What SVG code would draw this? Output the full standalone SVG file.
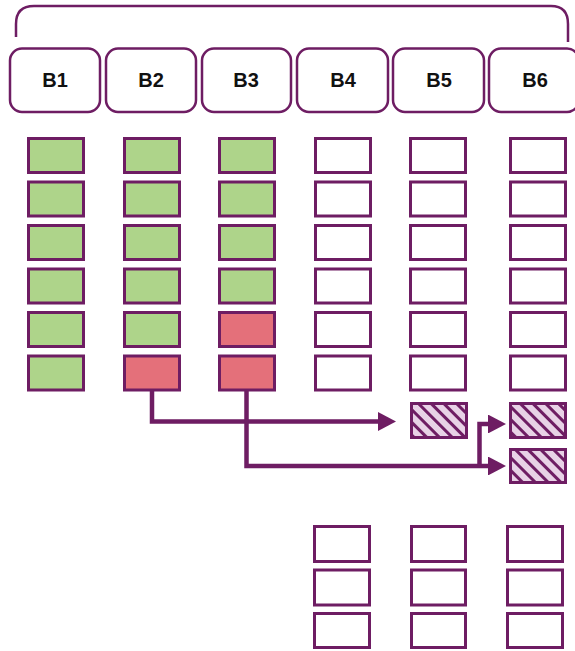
<svg xmlns="http://www.w3.org/2000/svg" width="575" height="651" viewBox="0 0 575 651">
<style>
.hdr{fill:#fff;stroke:#6e1d63;stroke-width:2.5}
.lbl{font-family:"Liberation Sans",Arial,sans-serif;font-weight:bold;font-size:20px;fill:#111;text-anchor:middle}
.c{stroke:#6e1d63;stroke-width:3}
.g{fill:#aed48a}
.r{fill:#e4707a}
.w{fill:#fff}
.h{fill:url(#hatch)}
.conn{fill:none;stroke:#6e1d63;stroke-width:4.5}
</style>
<defs>
<pattern id="hatch" patternUnits="userSpaceOnUse" width="9" height="9" patternTransform="rotate(-45)">
<rect width="9" height="9" fill="#e8d2e6"/>
<rect x="0" y="0" width="3" height="9" fill="#6e1d63"/>
</pattern>
<marker id="ah" markerWidth="4" markerHeight="4.2" refX="0" refY="2.1" orient="auto" markerUnits="strokeWidth">
<path d="M0,0 L4,2.1 L0,4.2 Z" fill="#6e1d63"/>
</marker>
</defs>
<path d="M16,37 V24 Q16,6 34,6 H551 Q568,6 568,24 V42" fill="none" stroke="#6e1d63" stroke-width="2.5"/>
<g id="B1"><rect class="hdr" x="10" y="48.5" width="90" height="63.5" rx="12"/><text class="lbl" x="55" y="87">B1</text></g>
<g id="B2"><rect class="hdr" x="106" y="48.5" width="90" height="63.5" rx="12"/><text class="lbl" x="151" y="87">B2</text></g>
<g id="B3"><rect class="hdr" x="202" y="48.5" width="89" height="63.5" rx="12"/><text class="lbl" x="246" y="87">B3</text></g>
<g id="B4"><rect class="hdr" x="297" y="48.5" width="91" height="63.5" rx="12"/><text class="lbl" x="343" y="87">B4</text></g>
<g id="B5"><rect class="hdr" x="393" y="48.5" width="91" height="63.5" rx="12"/><text class="lbl" x="439" y="87">B5</text></g>
<g id="B6"><rect class="hdr" x="489" y="48.5" width="90" height="63.5" rx="12"/><text class="lbl" x="535" y="87">B6</text></g>
<g id="col1">
<rect class="c g" x="28.5" y="138.5" width="55" height="34"/>
<rect class="c g" x="28.5" y="182" width="55" height="34"/>
<rect class="c g" x="28.5" y="225.5" width="55" height="34"/>
<rect class="c g" x="28.5" y="269" width="55" height="34"/>
<rect class="c g" x="28.5" y="312.5" width="55" height="34"/>
<rect class="c g" x="28.5" y="356" width="55" height="34"/>
</g>
<g id="col2">
<rect class="c g" x="124.5" y="138.5" width="55" height="34"/>
<rect class="c g" x="124.5" y="182" width="55" height="34"/>
<rect class="c g" x="124.5" y="225.5" width="55" height="34"/>
<rect class="c g" x="124.5" y="269" width="55" height="34"/>
<rect class="c g" x="124.5" y="312.5" width="55" height="34"/>
<rect class="c r" x="124.5" y="356" width="55" height="34"/>
</g>
<g id="col3">
<rect class="c g" x="219.5" y="138.5" width="55" height="34"/>
<rect class="c g" x="219.5" y="182" width="55" height="34"/>
<rect class="c g" x="219.5" y="225.5" width="55" height="34"/>
<rect class="c g" x="219.5" y="269" width="55" height="34"/>
<rect class="c r" x="219.5" y="312.5" width="55" height="34"/>
<rect class="c r" x="219.5" y="356" width="55" height="34"/>
</g>
<g id="col4">
<rect class="c w" x="315.5" y="138.5" width="55" height="34"/>
<rect class="c w" x="315.5" y="182" width="55" height="34"/>
<rect class="c w" x="315.5" y="225.5" width="55" height="34"/>
<rect class="c w" x="315.5" y="269" width="55" height="34"/>
<rect class="c w" x="315.5" y="312.5" width="55" height="34"/>
<rect class="c w" x="315.5" y="356" width="55" height="34"/>
</g>
<g id="col5">
<rect class="c w" x="410.5" y="138.5" width="55" height="34"/>
<rect class="c w" x="410.5" y="182" width="55" height="34"/>
<rect class="c w" x="410.5" y="225.5" width="55" height="34"/>
<rect class="c w" x="410.5" y="269" width="55" height="34"/>
<rect class="c w" x="410.5" y="312.5" width="55" height="34"/>
<rect class="c w" x="410.5" y="356" width="55" height="34"/>
<rect class="c h" x="411.5" y="403.5" width="55" height="34"/>
</g>
<g id="col6">
<rect class="c w" x="510.5" y="138.5" width="55" height="34"/>
<rect class="c w" x="510.5" y="182" width="55" height="34"/>
<rect class="c w" x="510.5" y="225.5" width="55" height="34"/>
<rect class="c w" x="510.5" y="269" width="55" height="34"/>
<rect class="c w" x="510.5" y="312.5" width="55" height="34"/>
<rect class="c w" x="510.5" y="356" width="55" height="34"/>
<rect class="c h" x="510.5" y="403.5" width="55" height="34"/>
<rect class="c h" x="510.5" y="449.5" width="55" height="33"/>
</g>
<g id="bottom">
<rect class="c w" x="314.5" y="526.5" width="55" height="35"/>
<rect class="c w" x="314.5" y="570" width="55" height="35"/>
<rect class="c w" x="314.5" y="613.5" width="55" height="34"/>
<rect class="c w" x="411.5" y="526.5" width="54" height="35"/>
<rect class="c w" x="411.5" y="570" width="54" height="35"/>
<rect class="c w" x="411.5" y="613.5" width="54" height="34"/>
<rect class="c w" x="507.5" y="526.5" width="55" height="35"/>
<rect class="c w" x="507.5" y="570" width="55" height="35"/>
<rect class="c w" x="507.5" y="613.5" width="55" height="34"/>
</g>
<g id="connectors">
<path class="conn" d="M152,390 V421.5 H378" marker-end="url(#ah)"/>
<path class="conn" d="M246.5,390 V466 H488" marker-end="url(#ah)"/>
<path class="conn" d="M479.5,466 V424 H488" marker-end="url(#ah)"/>
</g>
</svg>
